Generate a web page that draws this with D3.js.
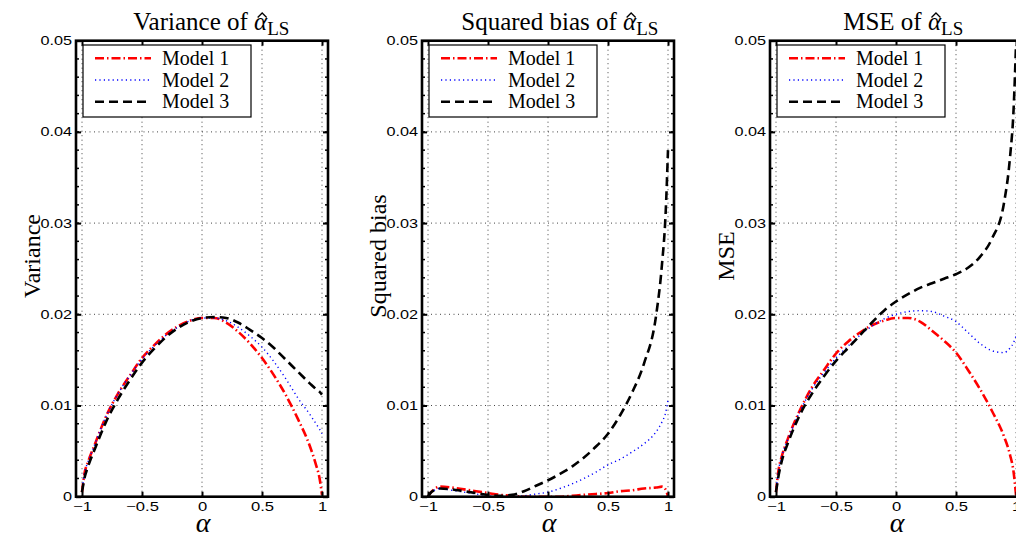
<!DOCTYPE html>
<html>
<head>
<meta charset="utf-8">
<script src="https://cdn.jsdelivr.net/npm/d3@7"></script>
<style>
  body { margin: 0; background: #fff; }
  svg { display: block; }
</style>
</head>
<body>
<div id="chart"></div>
<script>
// alpha grid shared by every curve
var alphaGrid = [-1, -0.98, -0.95, -0.9, -0.8, -0.7, -0.6, -0.5, -0.4, -0.3, -0.2, -0.1, 0,
                 0.1, 0.2, 0.3, 0.4, 0.5, 0.6, 0.7, 0.8, 0.9, 0.95, 0.98, 1];

// variance
var varModel1 = [0.0005, 0.0025, 0.0038, 0.0055, 0.0088, 0.0113, 0.0133, 0.0152, 0.0166, 0.0178, 0.0187, 0.0193, 0.0196,
                 0.0196, 0.0191, 0.0181, 0.0168, 0.0152, 0.0133, 0.0111, 0.0085, 0.0055, 0.0035, 0.0020, 0.0002];
var varModel2 = [0.0005, 0.0025, 0.0038, 0.0055, 0.0088, 0.0113, 0.0133, 0.0151, 0.0165, 0.0177, 0.0186, 0.0193, 0.0196,
                 0.0196, 0.0193, 0.0186, 0.0176, 0.0164, 0.0148, 0.0129, 0.0108, 0.0090, 0.0080, 0.0074, 0.0069];
var varModel3 = [0.0005, 0.0020, 0.0033, 0.0050, 0.0082, 0.0107, 0.0128, 0.0147, 0.0162, 0.0175, 0.0185, 0.0192, 0.0196,
                 0.0197, 0.0196, 0.0191, 0.0183, 0.0174, 0.0163, 0.0150, 0.0137, 0.0124, 0.0118, 0.0115, 0.0112];

// squared bias
var biasModel1 = [0, 0.0004, 0.0008, 0.0011, 0.0010, 0.0008, 0.0006, 0.0004, 0.0002, 0.0001, 0.0000, 0.0000, 0.0000,
                  0.0000, 0.0001, 0.0002, 0.0003, 0.0004, 0.0006, 0.0007, 0.0009, 0.0010, 0.0011, 0.0008, 0.0000];
var biasModel2 = [0, 0.0004, 0.0007, 0.0009, 0.0007, 0.0005, 0.0003, 0.0001, 0.0000, 0.0000, 0.0001, 0.0003, 0.0005,
                  0.0009, 0.0014, 0.0020, 0.0027, 0.0035, 0.0041, 0.0049, 0.0058, 0.0071, 0.0082, 0.0092, 0.0106];
var biasModel3 = [0, 0.0004, 0.0007, 0.0009, 0.0008, 0.0006, 0.0004, 0.0002, 0.0001, 0.0002, 0.0006, 0.0012, 0.0018,
                  0.0025, 0.0033, 0.0043, 0.0055, 0.0069, 0.0089, 0.0114, 0.0146, 0.0198, 0.0255, 0.0310, 0.0380];

// MSE
var mseModel1 = [0.0005, 0.0028, 0.0045, 0.0064, 0.0095, 0.0120, 0.0139, 0.0157, 0.0170, 0.0180, 0.0188, 0.0193, 0.0196,
                 0.0196, 0.0192, 0.0182, 0.0171, 0.0158, 0.0139, 0.0118, 0.0094, 0.0066, 0.0046, 0.0027, 0.0002];
var mseModel2 = [0.0005, 0.0028, 0.0045, 0.0063, 0.0094, 0.0118, 0.0136, 0.0152, 0.0165, 0.0177, 0.0187, 0.0195, 0.0200,
                 0.0203, 0.0204, 0.0203, 0.0198, 0.0192, 0.0180, 0.0168, 0.0160, 0.0158, 0.0163, 0.0169, 0.0176];
var mseModel3 = [0.0005, 0.0022, 0.0040, 0.0059, 0.0090, 0.0113, 0.0132, 0.0149, 0.0163, 0.0177, 0.0191, 0.0204, 0.0214,
                 0.0222, 0.0229, 0.0234, 0.0239, 0.0244, 0.0251, 0.0263, 0.0283, 0.0322, 0.0372, 0.0425, 0.0495];

var seriesNames = ["Model 1", "Model 2", "Model 3"];
var panelTitles = ["Variance of ", "Squared bias of ", "MSE of "];
var yLabels = ["Variance", "Squared bias", "MSE"];
var xTicks = [-1, -0.5, 0, 0.5, 1];
var yTicks = [0, 0.01, 0.02, 0.03, 0.04, 0.05];

var panelData = [
  [varModel1, varModel2, varModel3],
  [biasModel1, biasModel2, biasModel3],
  [mseModel1, mseModel2, mseModel3]
];

var styles = [
  {color: "#ff0000", width: 2.6, dash: "9,3,1.5,3"},
  {color: "#0000ff", width: 1.4, dash: "1.2,3.2"},
  {color: "#000000", width: 2.6, dash: "9,5"}
];

var W = 1016, H = 539;
var panelLefts = [76, 422, 770];
var pw = 252, plotTop = 40.7, plotBottom = 496.7;
var serif = "'Liberation Serif', 'Times New Roman', serif";
var sans = "'Liberation Sans', Arial, sans-serif";

var svg = d3.select("#chart").append("svg")
    .attr("width", W)
    .attr("height", H);

svg.append("rect").attr("width", W).attr("height", H).attr("fill", "#fff");

panelData.forEach(function(series, p){
    var left = panelLefts[p];
    var x = d3.scaleLinear().domain([-1.05, 1.05]).range([left, left + pw]);
    var y = d3.scaleLinear().domain([0, 0.05]).range([plotBottom, plotTop]);

    var g = svg.append("g").attr("class", "panel");

    // grid
    g.append("g").selectAll("line")
      .data(xTicks)
      .enter().append("line")
      .attr("x1", function(d){ return x(d); })
      .attr("x2", function(d){ return x(d); })
      .attr("y1", plotTop).attr("y2", plotBottom)
      .attr("stroke", "#444").attr("stroke-width", 1)
      .attr("stroke-dasharray", "1,3.5");

    g.append("g").selectAll("line")
      .data(yTicks.slice(1, -1))
      .enter().append("line")
      .attr("y1", function(d){ return y(d); })
      .attr("y2", function(d){ return y(d); })
      .attr("x1", x.range()[0]).attr("x2", x.range()[1])
      .attr("stroke", "#444").attr("stroke-width", 1)
      .attr("stroke-dasharray", "1,3.5");

    // curves
    var clipId = "clip" + p;
    g.append("clipPath").attr("id", clipId)
      .append("rect")
      .attr("x", left).attr("y", plotTop)
      .attr("width", pw).attr("height", plotBottom - plotTop);

    var line = d3.line()
        .x(function(d, i){ return x(alphaGrid[i]); })
        .y(function(d){ return y(d); })
        .curve(d3.curveMonotoneX);

    g.append("g").attr("clip-path", "url(#" + clipId + ")")
      .selectAll("path")
      .data(series)
      .enter().append("path")
      .attr("d", function(d){ return line(d); })
      .attr("fill", "none")
      .attr("stroke", function(d, i){ return styles[i].color; })
      .attr("stroke-width", function(d, i){ return styles[i].width; })
      .attr("stroke-dasharray", function(d, i){ return styles[i].dash; });

    // axes (ticks pointing in)
    var xAxisB = d3.axisBottom(x).tickValues(xTicks).tickSize(-5).tickPadding(5)
        .tickFormat(d3.format(""));
    var xAxisT = d3.axisTop(x).tickValues(xTicks).tickSize(-5).tickFormat("");
    var yAxisL = d3.axisLeft(y).tickValues(yTicks).tickSize(-5).tickPadding(0)
        .tickFormat(function(d){ return d === 0 ? "0" : d3.format(".2f")(d); });
    var yAxisR = d3.axisRight(y).tickValues(yTicks).tickSize(-5).tickFormat("");

    var minor = d3.range(0.002, 0.05, 0.002);

    function clean(a){
        a.select(".domain").remove();
        a.selectAll(".tick line").attr("stroke", "#000").attr("stroke-width", 2);
    }

    g.append("g").attr("transform", "translate(0," + plotBottom + ")").call(xAxisB).call(clean)
      .selectAll("text")
      .attr("font-family", sans).attr("font-size", 12.5).attr("fill", "#000")
      .attr("transform", "scale(1.33,1)");
    g.append("g").attr("transform", "translate(0," + plotTop + ")").call(xAxisT).call(clean);
    g.append("g").attr("transform", "translate(" + left + ",0)").call(yAxisL).call(clean)
      .selectAll("text")
      .attr("font-family", sans).attr("font-size", 12.5).attr("fill", "#000")
      .attr("x", 0)
      .attr("transform", "translate(-4,0) scale(1.3,1)");
    g.append("g").attr("transform", "translate(" + (left + pw) + ",0)").call(yAxisR).call(clean);

    // minor y ticks
    g.append("g").selectAll("line")
      .data(minor)
      .enter().append("line")
      .attr("x1", left).attr("x2", left + 3)
      .attr("y1", function(d){ return y(d); }).attr("y2", function(d){ return y(d); })
      .attr("stroke", "#000").attr("stroke-width", 1.5);
    g.append("g").selectAll("line")
      .data(minor)
      .enter().append("line")
      .attr("x1", left + pw - 3).attr("x2", left + pw)
      .attr("y1", function(d){ return y(d); }).attr("y2", function(d){ return y(d); })
      .attr("stroke", "#000").attr("stroke-width", 1.5);

    // frame
    g.append("rect")
      .attr("x", left).attr("y", plotTop)
      .attr("width", pw).attr("height", plotBottom - plotTop)
      .attr("fill", "none").attr("stroke", "#000").attr("stroke-width", 2.6);

    // legend
    var lx = left + 7, ly = 45;
    var leg = g.append("g");
    leg.append("rect")
      .attr("x", lx).attr("y", ly).attr("width", 168).attr("height", 72)
      .attr("fill", "#fff").attr("stroke", "#000").attr("stroke-width", 1.2);
    seriesNames.forEach(function(name, i){
        var yy = ly + 13.3 + i * 21.7;
        leg.append("line")
          .attr("x1", lx + 12).attr("x2", lx + 68)
          .attr("y1", yy).attr("y2", yy)
          .attr("stroke", styles[i].color)
          .attr("stroke-width", styles[i].width)
          .attr("stroke-dasharray", styles[i].dash);
        leg.append("text")
          .attr("x", lx + 79).attr("y", yy + 6.5)
          .attr("font-family", serif).attr("font-size", 20)
          .text(name);
    });

    // title with alpha hat and LS subscript
    var cx = left + pw / 2;
    var t = g.append("text")
      .attr("y", 30)
      .attr("font-family", serif).attr("font-size", 25);
    t.append("tspan").text(panelTitles[p]);
    t.append("tspan").attr("font-style", "italic").text("α");
    t.append("tspan").attr("font-size", 19).attr("dy", 5).text("LS");
    var tw = t.node().getComputedTextLength();
    t.attr("x", cx - 0.44 * tw);
    var ai = panelTitles[p].length;
    var s0 = t.node().getStartPositionOfChar(ai).x;
    var s1 = t.node().getEndPositionOfChar(ai).x;
    var hx = (s0 + s1) / 2 + 1.5;
    g.append("path")
      .attr("d", "M" + (hx - 4.5) + ",17.5L" + hx + ",13L" + (hx + 4.5) + ",17.5")
      .attr("fill", "none").attr("stroke", "#000").attr("stroke-width", 1.3);

    // y label
    g.append("text")
      .attr("transform", "translate(" + (left - 36) + ",256) rotate(-90)")
      .attr("text-anchor", "middle")
      .attr("font-family", serif).attr("font-size", 24)
      .text(yLabels[p]);

    // x label
    g.append("text")
      .attr("x", cx + 1).attr("y", 532)
      .attr("text-anchor", "middle")
      .attr("font-family", serif).attr("font-style", "italic").attr("font-size", 28)
      .text("α");
});
</script>
</body>
</html>
